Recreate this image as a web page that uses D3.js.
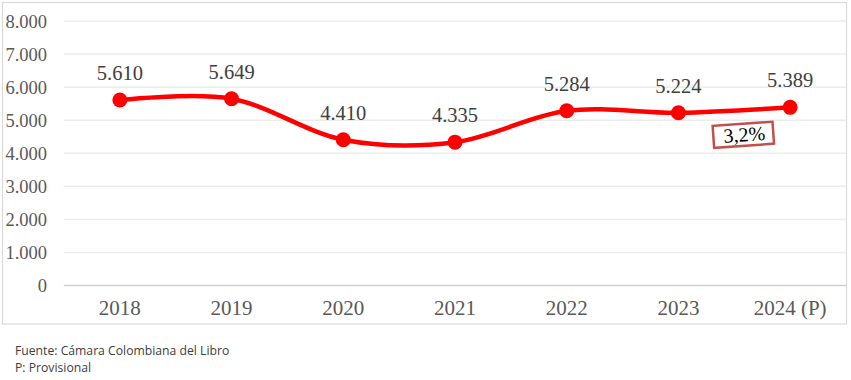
<!DOCTYPE html>
<html><head><meta charset="utf-8">
<script src="https://cdn.jsdelivr.net/npm/d3@7"></script>
<style>body{margin:0;background:#fff;}</style>
</head><body>
<svg id="c" width="851" height="380"></svg>
<script>
const categories = ["2018","2019","2020","2021","2022","2023","2024 (P)"];
const values = [5610, 5649, 4410, 4335, 5284, 5224, 5389];
const yTicks = [0,1000,2000,3000,4000,5000,6000,7000,8000];
const growthLabel = "3,2%";
const footnotes = ["Fuente: Cámara Colombiana del Libro", "P: Provisional"];

const svg = d3.select("#c");
const serif = "'Liberation Serif', 'DejaVu Serif', serif";
const fmt = d3.formatLocale({decimal:",", thousands:".", grouping:[3], currency:["",""]}).format(",.0f");

svg.append("rect").attr("x",2.5).attr("y",2.5).attr("width",844).attr("height",321.5)
  .attr("fill","#fff").attr("stroke","#d9d9d9").attr("stroke-width",1.2);

const x = d3.scaleBand().domain(categories).range([64,846]);
const y = d3.scaleLinear().domain([0,8000]).range([285.5,21]);

// gridlines
svg.append("g").selectAll("line").data(yTicks).join("line")
  .attr("x1",64).attr("x2",846)
  .attr("y1",d=>y(d)).attr("y2",d=>y(d))
  .attr("stroke",d=>d===0?"#d0d0d0":"#ececec").attr("stroke-width",1.5);

// y axis
const yAxis = svg.append("g").attr("transform","translate(47,0)")
  .call(d3.axisLeft(y).tickValues(yTicks).tickFormat(fmt).tickSize(0).tickPadding(0));
yAxis.select(".domain").remove();
yAxis.selectAll("text").attr("font-family",serif).attr("font-size",18.5).attr("fill","#595959").attr("dy","0.34em");

// x axis
const xAxis = svg.append("g").attr("transform","translate(0,285.5)")
  .call(d3.axisBottom(x).tickSize(0).tickPadding(15));
xAxis.select(".domain").remove();
xAxis.selectAll("text").attr("font-family",serif).attr("font-size",21).attr("fill","#595959");

// line
const pts = categories.map((c,i)=>[x(c)+x.bandwidth()/2, y(values[i])]);
svg.append("path").attr("d", d3.line().curve(d3.curveCatmullRom.alpha(0))(pts))
  .attr("fill","none").attr("stroke","#ff0000").attr("stroke-width",4.5).attr("stroke-linecap","round");

svg.append("g").selectAll("circle").data(pts).join("circle")
  .attr("cx",d=>d[0]).attr("cy",d=>d[1]).attr("r",7.5).attr("fill","#ff0000");

svg.append("g").selectAll("text").data(values).join("text")
  .attr("x",(d,i)=>pts[i][0]).attr("y",(d,i)=>pts[i][1]-20)
  .attr("text-anchor","middle").attr("font-family",serif).attr("font-size",20.5).attr("fill","#404040")
  .text(d=>fmt(d));

// growth box
const bx = x(categories[6]) + 9, by = y(values[6]) + 27;
const g = svg.append("g").attr("transform",`translate(${bx},${by}) rotate(-4)`);
g.append("rect").attr("x",-30).attr("y",-10.5).attr("width",60).attr("height",22)
  .attr("fill","#fff").attr("stroke","#c0504d").attr("stroke-width",2.5);
g.append("text").attr("x",1).attr("y",7).attr("text-anchor","middle")
  .attr("font-family",serif).attr("font-size",20).attr("fill","#000").text(growthLabel);

// footnotes
svg.append("g").selectAll("text").data(footnotes).join("text")
  .attr("x",15).attr("y",(d,i)=>355+i*17)
  .attr("font-family","'Open Sans', 'Liberation Sans', sans-serif").attr("font-size",12.2).attr("fill","#404040")
  .text(d=>d);
</script>
</body></html>
